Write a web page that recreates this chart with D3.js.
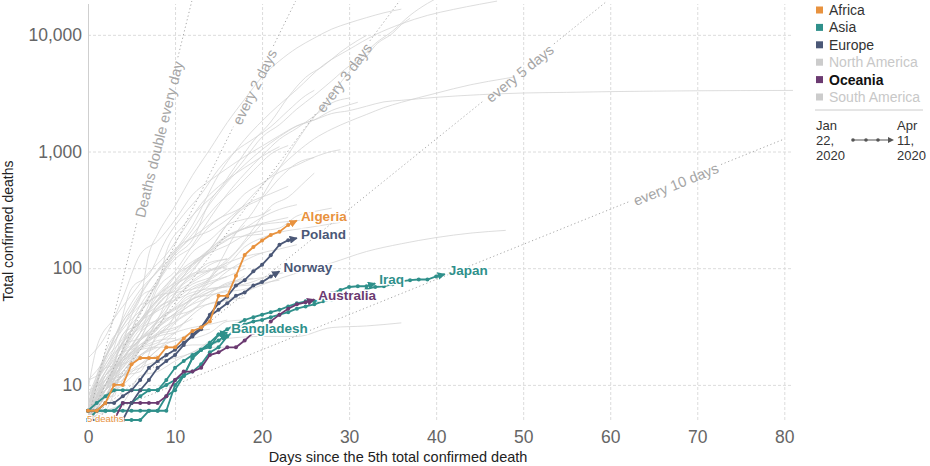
<!DOCTYPE html>
<html><head><meta charset="utf-8">
<script src="https://cdn.jsdelivr.net/npm/d3@7"></script>
<style>
body{margin:0;background:#fff;}
svg{display:block;font-family:"Liberation Sans",Arial,Helvetica,sans-serif;}
</style></head><body>
<svg id="chart" width="930" height="466"></svg>
<script>
// ---------------- DATA ----------------
const xTicks = [0, 10, 20, 30, 40, 50, 60, 70, 80];
const yTicks = [10, 100, 1000, 10000];

const continents = ["Africa", "Asia", "Europe", "North America", "Oceania", "South America"];
const continentColors = ["#E8923E", "#2F908B", "#4B5877", "#cccccc", "#6B3A71", "#cccccc"];
const continentActive = [true, true, true, false, true, false];

const doublingPeriods = [1, 2, 3, 5, 10];
const doublingLabels = ["Deaths double every day", "every 2 days", "every 3 days", "every 5 days", "every 10 days"];
const doublingLabelDay = [8, 19, 29.3, 49.5, 67.5];

// highlighted countries: deaths for day 0,1,2,...
const algeria   = [6,6,7,10,10,15,17,17,17,21,21,25,29,31,35,58,58,86,130,152,173,193,205,235,256];
const poland    = [5,5,5,5,5,7,9,11,14,16,18,22,27,31,40,50,57,71,79,94,107,129,159,174,181];
const norway    = [6,6,7,7,8,9,11,14,16,18,20,23,26,30,39,44,50,58,62,71,76,85,94];
const australia = [5,5,5,5,7,7,7,7,7,8,11,13,13,14,18,19,21,21,24,28,30,35,40,45,49,51,54];
const iraq      = [6,7,8,9,9,9,9,9,9,10,11,12,17,20,23,27,30,33,36,38,40,42,44,47,50,52,52,54,61,65,69,70,70,74];
const japan     = [6,6,6,6,6,6,6,6,6,6,10,12,13,15,19,21,26,30,33,35,36,38,40,42,45,47,49,52,54,56,57,60,66,69,70,73,77,79,80,80,85,89];
const bangladesh= [5,5,5,5,5,5,5,6,6,8,9,12,17,20,21,27,28];
const asiaOther = [5,6,6,6,7,7,8,9,9,11,14,16,18,20,22,24,27];

const highlightNames      = ["Japan","Iraq","Bangladesh","","Australia","Norway","Poland","Algeria"];
const highlightContinents = ["Asia","Asia","Asia","Asia","Oceania","Europe","Europe","Africa"];
const highlightSeries     = [japan, iraq, bangladesh, asiaOther, australia, norway, poland, algeria];

// other countries (grey), [day, deaths]
const greyEurope = [
 ["Italy",[[0,7],[3,17],[6,34],[9,107],[12,233],[15,631],[18,1266],[21,2158],[24,3405],[27,5476],[30,7503],[33,10023],[36,12428],[39,14681],[42,16523],[45,18279],[47,19468]]],
 ["Spain",[[0,5],[2,17],[4,35],[6,55],[7,133],[8,195],[10,342],[12,623],[14,1043],[16,1772],[18,2808],[20,4365],[22,5982],[24,7716],[26,9387],[28,11198],[30,12641],[32,14045],[34,15447],[36,16606]]],
 ["France",[[0,6],[2,16],[4,25],[6,48],[8,79],[10,127],[12,175],[14,372],[16,562],[18,860],[20,1331],[22,1698],[24,2314],[26,3024],[28,4032],[30,5398],[32,6520],[33,8093],[35,10343],[36,12228],[37,13851]]],
 ["United Kingdom",[[0,6],[1,8],[3,8],[4,21],[6,56],[8,72],[9,138],[11,234],[13,336],[15,466],[17,761],[19,1231],[21,1793],[23,2926],[25,4320],[27,5385],[29,7111],[31,8974],[32,9892]]],
 ["Belgium",[[0,5],[1,10],[3,21],[5,67],[7,88],[9,178],[11,289],[13,431],[15,705],[17,1011],[19,1283],[21,1632],[23,2240],[25,3019],[26,3346]]],
 ["Germany",[[0,6],[2,9],[4,17],[6,28],[8,67],[10,94],[12,157],[14,267],[16,433],[18,645],[20,920],[22,1275],[24,1584],[26,2016],[28,2607],[30,2871]]],
 ["Netherlands",[[0,5],[2,10],[4,20],[6,43],[8,76],[10,136],[12,213],[14,356],[16,546],[18,771],[20,1039],[22,1339],[24,1651],[26,1867],[28,2248],[30,2511],[31,2643]]],
 ["Switzerland",[[0,11],[2,14],[4,27],[6,41],[8,75],[10,120],[12,153],[14,231],[16,300],[18,433],[20,536],[22,666],[24,765],[26,895],[28,1002],[29,1036]]],
 ["Sweden",[[0,7],[2,10],[4,16],[6,21],[8,36],[10,77],[12,110],[14,146],[16,239],[18,333],[20,401],[22,591],[24,793],[26,887]]],
 ["Portugal",[[0,6],[1,12],[3,23],[5,43],[7,76],[9,119],[11,160],[13,209],[15,266],[17,311],[19,380],[21,435],[23,504]]],
 ["Austria",[[0,5],[2,8],[4,16],[6,28],[8,49],[10,68],[12,108],[14,146],[16,186],[18,220],[20,273],[22,319],[24,350]]],
 ["Ireland",[[0,6],[2,9],[4,19],[6,36],[8,54],[10,85],[12,137],[14,174],[16,235],[18,263],[20,288],[21,320]]],
 ["Denmark",[[0,6],[2,9],[4,24],[6,34],[8,52],[10,72],[12,104],[14,139],[16,187],[18,218],[20,237],[22,247],[25,260]]],
 ["Romania",[[0,11],[2,17],[4,37],[6,65],[8,94],[10,146],[12,182],[14,209],[16,262],[18,351]]],
 ["Greece",[[0,5],[2,6],[4,13],[6,17],[8,26],[10,38],[12,50],[14,63],[16,73],[18,79],[20,83],[22,90],[25,98],[27,101]]],
 ["Czechia",[[0,6],[2,11],[4,23],[6,36],[8,53],[10,72],[12,88],[14,112],[16,119]]],
 ["Hungary",[[0,6],[2,10],[4,13],[6,21],[8,32],[10,47],[12,66],[14,77],[16,85],[18,99]]],
 ["Serbia",[[0,6],[2,13],[4,23],[6,31],[8,44],[10,61],[12,66],[14,74],[16,85]]],
 ["Luxembourg",[[0,8],[2,9],[4,18],[6,30],[8,36],[10,44],[12,54],[14,66],[16,69],[19,72]]],
 ["Finland",[[0,7],[2,11],[4,17],[6,25],[8,34],[10,40],[12,49],[14,56]]],
 ["Russia",[[0,8],[2,17],[4,30],[6,43],[8,58],[10,63],[12,76],[14,94]]],
 ["San Marino",[[0,5],[2,11],[4,14],[6,20],[8,21],[10,21],[12,22],[14,22],[16,25],[20,26],[24,26],[28,31],[32,32],[36,34]]],
 ["Ukraine",[[0,5],[2,9],[4,20],[6,32],[8,45],[10,57],[12,73],[14,83],[16,98],[18,105]]],
 ["Bosnia",[[0,6],[2,10],[4,13],[6,20],[8,23],[10,28],[12,31],[14,33],[16,36]]],
 ["Slovenia",[[0,5],[2,9],[4,11],[6,15],[8,20],[10,28],[12,40],[14,50],[16,53],[18,56]]],
 ["Bulgaria",[[0,7],[2,8],[4,10],[6,14],[8,20],[10,24],[12,25],[14,28],[16,35],[18,36]]],
 ["Croatia",[[0,5],[2,6],[4,7],[6,12],[8,13],[10,16],[12,19],[14,21],[16,21]]],
 ["North Macedonia",[[0,9],[2,11],[4,17],[6,21],[8,28],[10,31],[12,37]]],
 ["Moldova",[[0,6],[2,8],[4,15],[6,21],[8,27],[10,30],[12,40]]],
 ["Andorra",[[0,6],[2,12],[4,16],[6,22],[8,26],[10,28]]],
 ["Estonia",[[0,7],[2,13],[4,19],[6,21],[8,24],[10,25]]]
];
const greyAmericas = [
 ["United States",[[0,6],[3,12],[6,21],[9,36],[12,54],[15,108],[17,200],[19,307],[21,552],[23,942],[25,1581],[27,2467],[29,3873],[31,5926],[33,8407],[35,10783],[37,14695],[39,18586],[40,20463]]],
 ["Canada",[[0,5],[1,8],[3,12],[5,19],[7,25],[9,30],[11,54],[13,64],[15,101],[17,139],[19,218],[21,339],[23,407],[25,557],[26,653]]],
 ["Brazil",[[0,6],[1,11],[3,25],[5,46],[7,77],[9,111],[11,159],[13,240],[15,359],[17,486],[19,686],[21,950],[23,1124]]],
 ["Ecuador",[[0,5],[2,7],[4,27],[6,34],[8,58],[10,75],[12,98],[14,145],[16,191],[18,220],[20,242],[23,272]]],
 ["Mexico",[[0,5],[2,8],[4,16],[6,28],[8,37],[10,60],[12,94],[14,141],[16,174],[18,233]]],
 ["Peru",[[0,5],[2,7],[4,11],[6,24],[8,30],[10,61],[12,83],[14,107],[16,121]]],
 ["Chile",[[0,5],[2,8],[4,12],[6,18],[8,22],[10,34],[12,43],[14,57],[16,65]]],
 ["Argentina",[[0,6],[2,9],[4,17],[6,24],[8,31],[10,39],[12,44],[14,60],[16,75],[19,82]]],
 ["Dominican Republic",[[0,6],[2,10],[4,20],[6,42],[8,60],[10,86],[12,108],[14,135],[16,177],[18,189],[20,196]]],
 ["Colombia",[[0,6],[2,10],[4,17],[6,25],[8,46],[10,54],[12,69],[14,80],[16,100]]],
 ["Panama",[[0,6],[2,9],[4,14],[6,24],[8,32],[10,41],[12,55],[14,59],[16,63],[18,66],[20,74],[22,79]]],
 ["Cuba",[[0,6],[2,9],[4,12],[6,15],[8,18]]],
 ["Honduras",[[0,7],[2,15],[4,22],[6,25],[8,31]]]
];
const greyAsiaAfrica = [
 ["China",[[0,17],[2,26],[4,56],[6,131],[8,171],[10,259],[12,425],[14,563],[16,718],[18,905],[20,1112],[22,1369],[24,1663],[26,1864],[28,2116],[30,2238],[32,2445],[34,2665],[36,2746],[40,2914],[45,3070],[50,3173],[55,3213],[60,3261],[65,3293],[70,3316],[75,3329],[81,3339]]],
 ["Iran",[[0,5],[2,12],[4,19],[6,34],[8,54],[10,77],[12,107],[14,145],[16,237],[18,354],[20,514],[22,724],[24,988],[26,1284],[28,1556],[30,1812],[32,2077],[34,2378],[36,2640],[38,2898],[40,3160],[42,3452],[44,3739],[46,3993],[48,4232],[49,4357]]],
 ["South Korea",[[0,6],[1,8],[2,10],[4,12],[6,13],[8,28],[10,35],[12,44],[16,54],[20,72],[24,91],[28,111],[32,139],[36,162],[40,183],[44,200],[48,211]]],
 ["Turkey",[[0,9],[1,21],[3,37],[5,59],[7,92],[9,131],[11,214],[13,356],[15,501],[17,649],[19,812],[21,1006],[22,1101]]],
 ["India",[[0,7],[2,10],[4,12],[6,20],[8,27],[10,35],[12,58],[14,83],[16,114],[18,166],[19,199],[20,242]]],
 ["Philippines",[[0,8],[2,12],[4,17],[6,25],[8,35],[10,54],[12,78],[14,96],[16,107],[18,152],[20,182],[22,203],[25,221],[29,247]]],
 ["Indonesia",[[0,5],[2,19],[4,32],[6,48],[8,58],[10,87],[12,114],[14,136],[16,157],[18,191],[20,209],[22,221],[24,280],[26,306],[28,327]]],
 ["Malaysia",[[0,8],[2,14],[4,23],[6,35],[8,43],[10,53],[12,62],[14,67],[16,70],[18,73],[20,82]]],
 ["Pakistan",[[0,6],[2,9],[4,12],[6,20],[8,35],[10,45],[12,54],[14,63],[16,71],[18,86]]],
 ["Israel",[[0,5],[2,12],[4,16],[6,25],[8,49],[10,65],[12,86],[14,95],[16,103]]],
 ["Egypt",[[0,6],[2,10],[4,19],[6,24],[8,36],[10,46],[12,58],[14,71],[16,94],[18,116],[20,135],[22,146],[24,159]]],
 ["Morocco",[[0,5],[2,10],[4,23],[6,36],[8,48],[10,70],[12,90],[14,97],[16,111],[18,126],[20,135]]],
 ["Tunisia",[[0,6],[2,8],[4,12],[6,18],[8,22],[10,24],[12,28],[14,30]]],
 ["Burkina Faso",[[0,7],[2,9],[4,12],[6,14],[8,16],[10,17],[12,19],[14,24]]],
 ["Afghanistan",[[0,7],[2,14],[4,15],[6,18],[8,21]]]
];

// ---------------- CHART ----------------
const svg = d3.select("#chart");
const x = d3.scaleLinear().domain([0, 81]).range([88, 793]);
const y = d3.scaleLog().domain([5, 19500]).range([420, 1]);
const plotTop = 4;
const colorOf = c => continentColors[continents.indexOf(c)];

// clip
svg.append("defs").append("clipPath").attr("id","plotclip")
  .append("rect").attr("x", x(0)).attr("y", 0).attr("width", x(81) - x(0) + 2).attr("height", y(5) + 2);

// axes & grid
const yAxis = d3.axisLeft(y).tickValues(yTicks).tickFormat(d3.format(","))
  .tickSize(-(x(81) - x(0))).tickPadding(6);
const gy = svg.append("g").attr("transform", `translate(${x(0)},0)`).call(yAxis);
gy.select(".domain").remove();
gy.selectAll(".tick line").attr("stroke", "#dcdcdc").attr("stroke-dasharray", "3,2");
gy.selectAll(".tick text").attr("fill", "#666").attr("font-size", 17.5)
  .attr("font-family", "Liberation Sans, Arial, sans-serif");

const xAxis = d3.axisBottom(x).tickValues(xTicks).tickSize(-(y(5) - plotTop)).tickPadding(11);
const gx = svg.append("g").attr("transform", `translate(0,${y(5)})`).call(xAxis);
gx.select(".domain").remove();
gx.selectAll(".tick line").attr("stroke", d => d === 0 ? "#cfcfcf" : "#dcdcdc")
  .attr("stroke-dasharray", d => d === 0 ? null : "3,2");
gx.selectAll(".tick text").attr("fill", "#666").attr("font-size", 17.5)
  .attr("font-family", "Liberation Sans, Arial, sans-serif");

// grey countries
const lineGen = d3.line().x(d => x(d[0])).y(d => y(d[1])).curve(d3.curveMonotoneX);
const gGrey = svg.append("g").attr("clip-path", "url(#plotclip)");
[greyEurope, greyAmericas, greyAsiaAfrica].forEach(group => {
  gGrey.selectAll(null).data(group).join("path")
    .attr("d", d => lineGen(d[1]))
    .attr("fill", "none").attr("stroke", "#d2d2d2").attr("stroke-width", 0.9).attr("opacity", 0.85);
});

// doubling reference lines
const gDbl = svg.append("g");
doublingPeriods.forEach((p, i) => {
  const endDay = Math.min(80, p * Math.log2(y.domain()[1] / 5));
  const x0 = x(0), y0 = y(5), x1 = x(endDay), y1 = y(5 * Math.pow(2, endDay / p));
  const len = Math.hypot(x1 - x0, y1 - y0), ux = (x1 - x0) / len, uy = (y1 - y0) / len;
  const cd = doublingLabelDay[i];
  const cx = x(cd), cy = y(5 * Math.pow(2, cd / p));
  const ang = Math.atan2(y1 - y0, x1 - x0) * 180 / Math.PI;
  const t = gDbl.append("text")
    .attr("transform", `translate(${cx - uy * 1.5},${cy + ux * 1.5}) rotate(${ang})`)
    .attr("text-anchor", "middle").attr("dy", "0.35em")
    .attr("font-size", 14.5).attr("fill", "#a5a5a5").text(doublingLabels[i]);
  const hw = t.node().getComputedTextLength() / 2 + 4;
  const along = (cx - x0) * ux + (cy - y0) * uy;
  [[0, along - hw], [along + hw, len]].forEach(s => {
    gDbl.append("line")
      .attr("x1", x0 + ux * s[0]).attr("y1", y0 + uy * s[0])
      .attr("x2", x0 + ux * s[1]).attr("y2", y0 + uy * s[1])
      .attr("stroke", "#a8a8a8").attr("stroke-width", 1).attr("stroke-dasharray", "1.2,2.6");
  });
});

// markers
const defs = svg.select("defs");
continents.forEach((c, i) => {
  defs.append("marker").attr("id", "arr" + i).attr("viewBox", "0 0 10 10")
    .attr("refX", 9).attr("refY", 5).attr("markerWidth", 8).attr("markerHeight", 8)
    .attr("markerUnits", "userSpaceOnUse").attr("orient", "auto")
    .append("path").attr("d", "M0,0L10,5L0,10z").attr("fill", continentColors[i]);
});

// highlighted
const hlLine = d3.line().x(d => x(d[0])).y(d => y(d[1]));
const gHl = svg.append("g");
highlightSeries.forEach((vals, i) => {
  const pts = vals.map((v, d) => [d, v]);
  const col = colorOf(highlightContinents[i]);
  const ci = continents.indexOf(highlightContinents[i]);
  gHl.append("path").attr("d", hlLine(pts)).attr("fill", "none").attr("stroke", col)
    .attr("stroke-width", 1.8).attr("marker-end", `url(#arr${ci})`);
  gHl.selectAll(null).data(pts.slice(0, -1)).join("circle")
    .attr("cx", d => x(d[0])).attr("cy", d => y(d[1])).attr("r", 2).attr("fill", col);
});
highlightSeries.forEach((vals, i) => {
  if (!highlightNames[i]) return;
  const col = colorOf(highlightContinents[i]);
  const last = vals.length - 1;
  gHl.append("text").attr("x", x(last) + 4).attr("y", y(vals[last]) - 4).attr("dy", "0.35em")
    .attr("font-size", 13.5).attr("font-weight", "bold").attr("fill", col)
    .attr("stroke", "#fff").attr("stroke-width", 3).attr("paint-order", "stroke")
    .text(highlightNames[i]);
});

// "5 deaths" annotation
svg.append("text").attr("x", x(0) - 1).attr("y", y(5) + 1.5).attr("font-size", 9.5)
  .attr("fill", colorOf("Africa")).attr("stroke", "#fff").attr("stroke-width", 2).attr("paint-order", "stroke")
  .text("5 deaths");

// axis titles
svg.append("text").attr("x", 398).attr("y", 461.5).attr("text-anchor", "middle")
  .attr("font-size", 14.5).attr("fill", "#222").text("Days since the 5th total confirmed death");
svg.append("text").attr("transform", "translate(12.5,231) rotate(-90)").attr("text-anchor", "middle")
  .attr("font-size", 14).attr("fill", "#222").text("Total confirmed deaths");

// legend
const lg = svg.append("g").attr("transform", "translate(815,0)");
continents.forEach((c, i) => {
  const cy = 10 + i * 17.4;
  lg.append("rect").attr("x", 1).attr("y", cy - 3.5).attr("width", 7).attr("height", 7).attr("fill", continentColors[i]);
  lg.append("text").attr("x", 14).attr("y", cy).attr("dy", "0.35em").attr("font-size", 14)
    .attr("font-weight", c === "Oceania" ? "bold" : "normal")
    .attr("fill", c === "Oceania" ? "#111" : (continentActive[i] ? "#333" : "#c8c8c8")).text(c);
});
lg.append("line").attr("x1", 0).attr("x2", 108).attr("y1", 110).attr("y2", 110).attr("stroke", "#ccc");
const startLines = ["Jan", "22,", "2020"], endLines = ["Apr", "11,", "2020"];
startLines.forEach((s, i) => lg.append("text").attr("x", 1).attr("y", 130 + i * 15).attr("font-size", 13).attr("fill", "#333").text(s));
endLines.forEach((s, i) => lg.append("text").attr("x", 82).attr("y", 130 + i * 15).attr("font-size", 13).attr("fill", "#333").text(s));
lg.append("line").attr("x1", 38).attr("x2", 74).attr("y1", 140).attr("y2", 140).attr("stroke", "#555").attr("stroke-width", 1);
[38, 51, 63].forEach(cx => lg.append("circle").attr("cx", cx).attr("cy", 140).attr("r", 1.8).attr("fill", "#555"));
lg.append("path").attr("d", "M73,137L79,140L73,143z").attr("fill", "#555");
</script>
</body></html>
